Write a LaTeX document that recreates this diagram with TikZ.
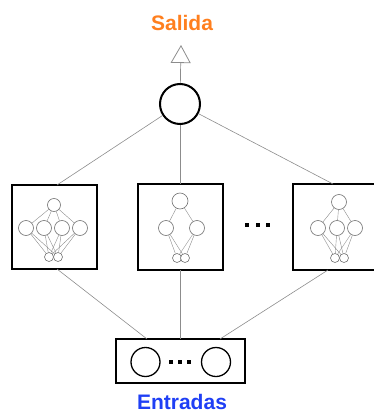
\documentclass[tikz,border=0pt]{standalone}
\usepackage{fontspec}
\setmainfont{Liberation Sans}
\usetikzlibrary{arrows.meta}
\definecolor{salcol}{HTML}{FF7F1E}
\definecolor{entcol}{HTML}{1F3FF5}
\tikzset{
  link/.style={draw=black!45, line width=0.6pt},
  netbox/.style={draw=black, line width=1.8pt},
  neuron/.style={circle, draw=black!55, line width=0.6pt, fill=white, inner sep=0pt},
  bigneuron/.style={circle, draw=black, line width=2pt, fill=white, inner sep=0pt, minimum size=40pt},
  inneuron/.style={circle, draw=black, line width=1.3pt, fill=white, inner sep=0pt, minimum size=29pt},
  dotsq/.style={fill=black, inner sep=0pt, minimum size=4pt},
  label/.style={font=\bfseries\fontsize{21}{22}\selectfont, inner sep=0pt, anchor=base},
}
\begin{document}
\begin{tikzpicture}[x=1pt, y=-1pt]
\useasboundingbox (0,0) rectangle (374,412);
\clip (0,0) rectangle (374,412);

% output neuron, arrow and label
\node[bigneuron] (out) at (180,104) {};
\coordinate (tip) at (181,45);
\draw[draw=black!45, line width=0.7pt, -{Triangle[open, length=18pt, width=20pt, line width=0.8pt]}] (out) -- (tip);
\node[label, text=salcol] (salida) at (182,31) {Salida};

% ensemble members
\draw[netbox] (12,185) rectangle (97,269);
\draw[netbox] (138,184) rectangle (223,270);
\draw[netbox] (293,184) rectangle (378,270);
\coordinate (lt) at (57,185);  \coordinate (lb) at (57,269);
\coordinate (mt) at (180,184); \coordinate (mb) at (180,270);
\coordinate (rt) at (333,184); \coordinate (rb) at (328,270);

% dots between members
\foreach \x [count=\i] in {247,258,268}
  \node[dotsq] (md\i) at (\x,225) {};

% input layer
\draw[netbox] (116,339) rectangle (245,383);
\node[inneuron] (in1) at (145.5,362) {};
\node[inneuron] (in2) at (216,362) {};
\foreach \x [count=\i] in {171,180,189}
  \node[dotsq] (id\i) at (\x,362) {};
\coordinate (it1) at (147,339);
\coordinate (it2) at (180,339);
\coordinate (it3) at (220,339);
\node[label, text=entcol] (entradas) at (182,409) {Entradas};

% connections
\draw[link] (out) -- (lt);
\draw[link] (out) -- (mt);
\draw[link] (out) -- (rt);
\draw[link] (lb) -- (it1);
\draw[link] (mb) -- (it2);
\draw[link] (rb) -- (it3);

% small network, left member
\node[neuron, minimum size=13pt] (la) at (54,205) {};
\foreach \x [count=\i] in {26,44,62,80}
  \node[neuron, minimum size=15pt] (lh\i) at (\x,228) {};
\node[neuron, minimum size=9pt] (lx1) at (49,257) {};
\node[neuron, minimum size=9pt] (lx2) at (58,257) {};
\foreach \i in {1,...,4} {
  \draw[link, line width=0.4pt] (la) -- (lh\i);
  \draw[link, line width=0.4pt] (lh\i) -- (lx1);
  \draw[link, line width=0.4pt] (lh\i) -- (lx2);
}

% small network, middle member
\node[neuron, minimum size=16pt] (ma) at (180,201) {};
\foreach \x [count=\i] in {166,197}
  \node[neuron, minimum size=15pt] (mh\i) at (\x,228) {};
\node[neuron, minimum size=9pt] (mx1) at (177,258) {};
\node[neuron, minimum size=9pt] (mx2) at (185,258) {};
\foreach \i in {1,2} {
  \draw[link, line width=0.4pt] (ma) -- (mh\i);
  \draw[link, line width=0.4pt] (mh\i) -- (mx1);
  \draw[link, line width=0.4pt] (mh\i) -- (mx2);
}

% small network, right member
\node[neuron, minimum size=15pt] (ra) at (339,202) {};
\foreach \x [count=\i] in {318,337,355}
  \node[neuron, minimum size=15pt] (rh\i) at (\x,228) {};
\node[neuron, minimum size=9pt] (rx1) at (335,258) {};
\node[neuron, minimum size=9pt] (rx2) at (344,258) {};
\foreach \i in {1,2,3} {
  \draw[link, line width=0.4pt] (ra) -- (rh\i);
  \draw[link, line width=0.4pt] (rh\i) -- (rx1);
  \draw[link, line width=0.4pt] (rh\i) -- (rx2);
}
\end{tikzpicture}
\end{document}
